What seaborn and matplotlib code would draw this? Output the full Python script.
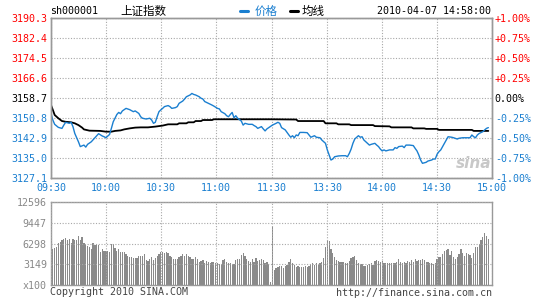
import matplotlib
matplotlib.use("Agg")
import matplotlib.pyplot as plt
import seaborn as sns

# ---------------- data ----------------
code_label = "sh000001"
index_name = "上证指数"
timestamp = "2010-04-07 14:58:00"
prev_close = 3158.7

price_minutes = [0, 1, 2, 4, 6, 7, 8, 10, 11, 12, 13, 15, 16, 18, 19, 20, 22, 24, 26, 28,
                 29, 30, 32, 33, 34, 36, 37, 38, 39, 41, 43, 45, 46, 48, 49, 50, 52, 54, 55, 56,
                 57, 58, 59, 60, 61, 62, 64, 65, 66, 68, 69, 70, 72, 73, 74, 76, 77, 78, 79, 81,
                 82, 83, 84, 86, 88, 89, 91, 92, 93, 95, 96, 97, 98, 99, 100, 101, 102, 104, 105, 106,
                 108, 110, 111, 112, 113, 115, 116, 117, 118, 119, 120, 121, 123, 124, 125, 126, 128, 129, 130, 131,
                 132, 133, 134, 135, 136, 138, 140, 141, 142, 144, 145, 147, 148, 150, 151, 152, 153, 154, 155, 157,
                 159, 161, 162, 163, 164, 165, 166, 168, 169, 170, 171, 173, 174, 175, 177, 178, 179, 180, 181, 182,
                 183, 185, 187, 188, 189, 190, 192, 193, 194, 196, 198, 199, 200, 201, 202, 203, 205, 206, 208, 209,
                 210, 211, 212, 213, 214, 215, 216, 217, 219, 220, 222, 223, 225, 227, 229, 230, 231, 232, 233, 234,
                 236, 237, 238, 239]
price_values = [3152.6, 3150.0, 3148.3, 3147.1, 3146.7, 3148.0, 3149.1, 3148.7, 3149.1, 3147.4, 3144.7, 3141.4, 3139.5, 3140.1, 3139.3, 3140.4, 3141.4, 3143.0, 3144.6, 3143.7,
                3143.4, 3143.0, 3144.3, 3146.7, 3149.3, 3152.2, 3153.0, 3152.5, 3153.6, 3154.6, 3154.1, 3153.3, 3153.6, 3152.6, 3151.3, 3150.7, 3150.4, 3150.7, 3150.0, 3148.7,
                3149.1, 3151.3, 3153.3, 3154.0, 3154.6, 3155.3, 3155.7, 3155.3, 3154.6, 3154.9, 3155.3, 3156.6, 3157.5, 3158.3, 3159.2, 3159.9, 3160.5, 3160.1, 3159.9, 3159.2,
                3158.6, 3158.3, 3157.3, 3156.6, 3155.9, 3155.5, 3154.6, 3154.4, 3153.3, 3152.5, 3151.7, 3151.3, 3152.2, 3153.0, 3150.9, 3151.7, 3150.7, 3149.6, 3148.0, 3148.7,
                3148.3, 3148.3, 3147.8, 3147.4, 3146.7, 3147.4, 3146.5, 3145.7, 3146.5, 3147.0, 3147.5, 3148.0, 3148.7, 3149.1, 3148.7, 3147.0, 3146.1, 3145.1, 3144.1, 3143.2,
                3143.8, 3143.0, 3144.1, 3143.8, 3145.1, 3145.1, 3145.0, 3144.1, 3143.2, 3143.8, 3143.2, 3143.0, 3142.1, 3140.8, 3138.2, 3136.2, 3134.2, 3134.6, 3135.5, 3135.8,
                3135.9, 3135.9, 3135.5, 3136.8, 3138.5, 3140.8, 3142.5, 3143.8, 3143.2, 3143.4, 3142.1, 3140.8, 3140.1, 3140.4, 3140.8, 3140.1, 3139.5, 3138.5, 3137.8, 3138.2,
                3137.8, 3138.2, 3138.2, 3139.1, 3138.8, 3139.5, 3139.7, 3139.1, 3140.1, 3140.1, 3139.9, 3138.8, 3137.8, 3136.2, 3134.2, 3132.9, 3133.3, 3133.8, 3134.2, 3134.6,
                3134.6, 3136.5, 3137.5, 3138.2, 3139.5, 3140.8, 3142.1, 3143.4, 3143.2, 3143.0, 3142.5, 3142.8, 3143.0, 3143.0, 3143.0, 3144.1, 3143.4, 3143.0, 3144.1, 3144.7,
                3145.4, 3146.1, 3146.7, 3147.0]

avg_minutes = [0, 1, 2, 4, 6, 8, 11, 13, 15, 17, 18, 21, 27, 30, 33, 35, 38, 40, 43, 46,
               49, 53, 57, 61, 64, 69, 70, 74, 75, 78, 79, 82, 83, 88, 89, 120, 134, 135, 149, 150,
               156, 157, 163, 164, 176, 177, 185, 186, 197, 198, 204, 205, 211, 212, 230, 231, 239]
avg_values = [3155.9, 3154.0, 3152.0, 3150.7, 3149.6, 3149.3, 3149.1, 3148.7, 3148.0, 3147.0, 3146.3, 3145.8, 3145.7, 3145.4, 3145.4, 3145.7, 3145.9, 3146.3, 3146.7, 3147.0,
              3147.1, 3147.1, 3147.4, 3147.8, 3148.3, 3148.3, 3148.7, 3148.7, 3149.1, 3149.1, 3149.6, 3149.6, 3150.0, 3150.0, 3150.3, 3150.3, 3150.2, 3149.6, 3149.6, 3148.7,
              3148.7, 3148.3, 3148.3, 3148.0, 3148.0, 3147.6, 3147.5, 3147.1, 3147.1, 3146.7, 3146.7, 3146.5, 3146.5, 3146.1, 3146.1, 3145.7, 3145.7]

# volume, units of 100 (axis label "x100"), one value per minute
volume_values = [
    5200, 5400, 5550, 5800, 6300, 6600, 6830, 6930, 7080, 6830,
    6930, 6300, 6930, 6830, 6900, 7440, 6830, 7230, 6430, 6220,
    5920, 5700, 5410, 6320, 6070, 6070, 6070, 4960, 5410, 5210,
    5210, 5210, 4960, 6220, 6220, 5570, 5210, 5410, 4960, 4960,
    4960, 4710, 4450, 4200, 4200, 4050, 4050, 4050, 4400, 4400,
    4400, 4710, 3800, 3640, 4000, 4200, 3800, 4050, 4400, 4710,
    4960, 4960, 4800, 4960, 4800, 4400, 4200, 4000, 4000, 4000,
    4200, 4400, 4710, 4400, 4710, 4400, 4200, 4000, 4000, 4200,
    3900, 3490, 3600, 3800, 3390, 3640, 3490, 3290, 3490, 3490,
    3290, 3290, 3190, 3190, 3800, 3900, 3490, 3390, 3290, 3190,
    3190, 3800, 4000, 4000, 4550, 4800, 4450, 4000, 3640, 3490,
    3900, 3490, 4050, 3640, 3800, 3900, 3800, 3390, 3490, 3190,
    500, 8850, 2280, 2530, 2780, 2880, 2880, 2530, 2880, 3040,
    3440, 3900, 3390, 3040, 2780, 2880, 2680, 2680, 2680, 2830,
    2780, 2880, 3140, 3290, 2980, 3290, 2980, 3290, 3490, 4050,
    5820, 6730, 6630, 5410, 4860, 4200, 3800, 3590, 3490, 3490,
    3440, 3390, 3340, 3590, 4150, 4300, 4400, 3800, 3290, 3190,
    3190, 2930, 2880, 2980, 3190, 3290, 3040, 3690, 3800, 3690,
    3440, 3690, 3390, 3290, 3390, 3290, 3390, 3290, 3390, 3490,
    3900, 3490, 3390, 3490, 3290, 3690, 3540, 3800, 3540, 3900,
    3690, 3800, 3800, 3900, 3800, 3540, 3540, 3390, 3290, 3190,
    3290, 4000, 4300, 4300, 4710, 5210, 5310, 5410, 4550, 5210,
    4300, 3900, 4200, 4660, 5410, 4910, 4400, 4810, 4710, 4500,
    4100, 4810, 5720, 5820, 6220, 6830, 7340, 7940, 7440, 6930]
volume_minutes = list(range(len(volume_values)))

price_ticks = [3127.1, 3135.0, 3142.9, 3150.8, 3158.7, 3166.6, 3174.5, 3182.4, 3190.3]
pct_ticks = [-1.0, -0.75, -0.5, -0.25, 0.0, 0.25, 0.5, 0.75, 1.0]
pct_labels = ["-1.00%", "-0.75%", "-0.50%", "-0.25%", "0.00%", "+0.25%", "+0.50%", "+0.75%", "+1.00%"]
time_ticks = [0, 30, 60, 90, 120.5, 151, 181, 211, 241]
time_labels = ["09:30", "10:00", "10:30", "11:00", "11:30", "13:30", "14:00", "14:30", "15:00"]
vol_ticks = [0, 3149, 6298, 9447, 12596]
vol_labels = ["x100", "3149", "6298", "9447", "12596"]
legend_labels = ["价格", "均线"]
copyright_text = "Copyright 2010 SINA.COM"
url_text = "http://finance.sina.com.cn"

# ---------------- style ----------------
sns.set_style("white")
plt.rcParams["font.family"] = ["DejaVu Sans Mono", "DejaVu Sans"]
CJK = ["Noto Sans CJK SC", "DejaVu Sans"]
MONO = ["DejaVu Sans Mono", "DejaVu Sans"]

BLUE = "#1a7fd0"
RED = "#ff0000"
GRID = "#a8a8a8"
FRAME = "#999999"
VOLC = "#8a8a8a"
FS = 7.2

W, H = 545, 300
fig = plt.figure(figsize=(W / 100, H / 100), dpi=100)
fig.patch.set_facecolor("white")


def frac(x0, y_top, x1, y_bot):
    return [x0 / W, 1 - y_bot / H, (x1 - x0) / W, (y_bot - y_top) / H]


ax = fig.add_axes(frac(51, 18, 492, 178))
axv = fig.add_axes(frac(51, 202, 492, 285))

# price panel
sns.lineplot(x=avg_minutes, y=avg_values, ax=ax, color="black", linewidth=1.3)
sns.lineplot(x=price_minutes, y=price_values, ax=ax, color=BLUE, linewidth=1.0)
ax.set_xlim(0, 241)
ax.set_ylim(price_ticks[0], price_ticks[-1])
ax.set_yticks(price_ticks)
ax.set_yticklabels([f"{v:.1f}" for v in price_ticks])
for lab, v in zip(ax.get_yticklabels(), price_ticks):
    lab.set_color(RED if v > prev_close + 1e-6 else ("black" if abs(v - prev_close) < 1e-6 else BLUE))
    lab.set_fontsize(FS)
ax.set_xticks(time_ticks)
ax.set_xticklabels(time_labels, color=BLUE, fontsize=FS)
ax.tick_params(axis="both", length=0)
ax.tick_params(axis="y", pad=3)
ax.tick_params(axis="x", pad=3.5)
ax.grid(True, color=GRID, linestyle=(0, (1, 1.5)), linewidth=0.8)
ax.set_xlabel("")
ax.set_ylabel("")
for s in ax.spines.values():
    s.set_color(FRAME)
    s.set_linewidth(1.0)

axr = ax.twinx()
axr.set_ylim(-1, 1)
axr.set_yticks(pct_ticks)
axr.set_yticklabels(pct_labels)
for lab, v in zip(axr.get_yticklabels(), pct_ticks):
    lab.set_color(RED if v > 0 else ("black" if v == 0 else BLUE))
    lab.set_fontsize(FS)
axr.tick_params(axis="y", length=0, pad=2)
for s in axr.spines.values():
    s.set_color(FRAME)
    s.set_linewidth(1.0)

# volume panel
sns.barplot(x=volume_minutes, y=volume_values, ax=axv, native_scale=True,
            color=VOLC, width=0.68, errorbar=None, linewidth=0, saturation=1)
axv.set_xlim(0, 241)
axv.set_ylim(vol_ticks[0], vol_ticks[-1])
axv.set_yticks(vol_ticks)
axv.set_yticklabels(vol_labels, color="#888888", fontsize=FS)
axv.set_xticks(time_ticks)
axv.set_xticklabels([])
axv.tick_params(axis="both", length=0)
axv.tick_params(axis="y", pad=3)
axv.grid(True, color=GRID, linestyle=(0, (1, 1.5)), linewidth=0.8)
axv.set_axisbelow(False)
axv.set_xlabel("")
axv.set_ylabel("")
for s in axv.spines.values():
    s.set_color(FRAME)
    s.set_linewidth(1.0)


# ---------------- header / footer texts ----------------
def px(x, y):
    return x / W, 1 - y / H


fig.text(*px(50, 11), code_label, family=MONO, fontsize=FS, va="center", ha="left", color="black")
fig.text(*px(120, 11), index_name, family=CJK, fontsize=8.3, va="center", ha="left", color="black")
fig.add_artist(plt.Line2D([240 / W, 248 / W], [1 - 11 / H] * 2, color=BLUE, linewidth=2.2))
fig.text(*px(255, 11), legend_labels[0], family=CJK, fontsize=8.3, va="center", ha="left", color=BLUE)
fig.add_artist(plt.Line2D([290 / W, 298 / W], [1 - 11 / H] * 2, color="black", linewidth=2.2))
fig.text(*px(302, 11), legend_labels[1], family=CJK, fontsize=8.3, va="center", ha="left", color="black")
fig.text(*px(491, 11), timestamp, family=MONO, fontsize=FS, va="center", ha="right", color="black")
fig.text(*px(50, 292), copyright_text, family=MONO, fontsize=FS, va="center", ha="left", color="#444444")
fig.text(*px(492, 293), url_text, family=MONO, fontsize=FS, va="center", ha="right", color="#444444")
fig.text(*px(474, 163), "sina", family=["DejaVu Sans"], fontsize=11, fontweight="bold",
         fontstyle="italic", va="center", ha="center", color="#c8c8c8")

fig.savefig("out.png", dpi=100)
